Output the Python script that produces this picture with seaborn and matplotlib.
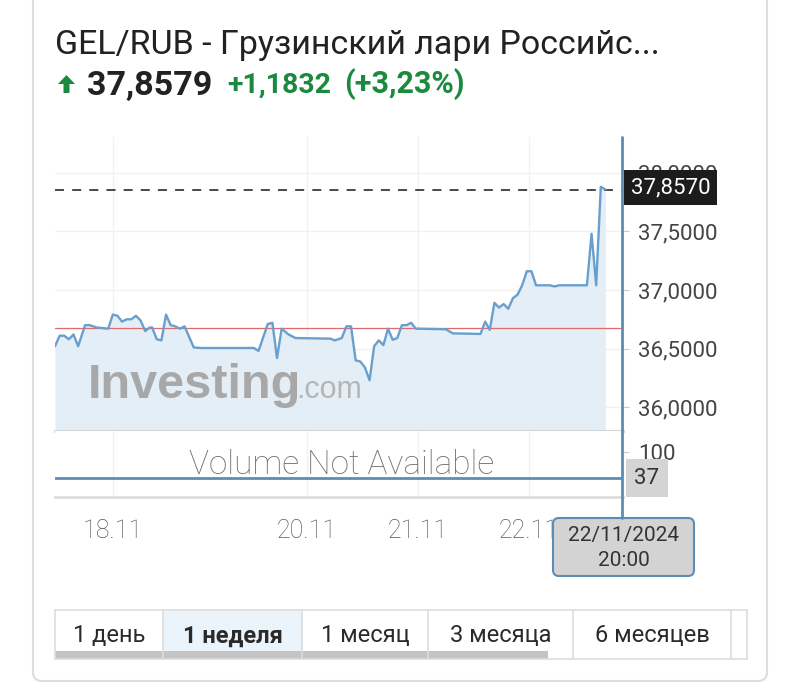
import numpy as np
import pandas as pd
import matplotlib
matplotlib.use("Agg")
import matplotlib.pyplot as plt
import seaborn as sns
from matplotlib.patches import FancyBboxPatch, Rectangle, Polygon

# ---------------- data ----------------
hours = [0, 1, 2, 3, 4, 5, 6.5, 7.5, 9, 11.5, 12.5, 13.5, 14.5, 15.5, 16.5, 17.5,
         18.5, 19.5, 20.5, 21, 22, 23, 24, 25, 26, 27, 28, 30, 31.5, 43, 44, 46,
         47, 48, 49, 50.5, 52, 59.5, 60.5, 62, 63, 64, 65, 66, 67, 68, 69, 70, 71,
         72, 73, 74, 75, 76, 77, 78, 84.5, 86, 92, 93, 94, 95, 96, 97, 98, 99,
         100, 101, 102, 103, 104, 107, 108, 109, 115, 116, 117, 118, 119]
prices = [36.52, 36.61, 36.61, 36.58, 36.62, 36.52, 36.70, 36.70, 36.68, 36.67,
          36.79, 36.78, 36.73, 36.75, 36.75, 36.78, 36.74, 36.65, 36.68, 36.68,
          36.58, 36.57, 36.79, 36.70, 36.69, 36.67, 36.69, 36.51, 36.505, 36.505,
          36.48, 36.71, 36.72, 36.42, 36.67, 36.62, 36.59, 36.585, 36.57, 36.59,
          36.69, 36.69, 36.40, 36.39, 36.34, 36.23, 36.52, 36.57, 36.53, 36.67,
          36.575, 36.59, 36.70, 36.70, 36.72, 36.67, 36.665, 36.63, 36.625, 36.73,
          36.66, 36.89, 36.85, 36.88, 36.84, 36.93, 36.96, 37.04, 37.16, 37.16,
          37.04, 37.04, 37.03, 37.04, 37.04, 37.48, 37.04, 37.88, 37.857]
prev_close = 36.6747
last_price = 37.857
last_label = "37,8570"
y_ticks = [36.0, 36.5, 37.0, 37.5, 38.0]
x_tick_hours = [12.5, 54.5, 78.5, 102.5]
x_tick_labels = ["18.11", "20.11", "21.11", "22.11"]
volume_ticks = [100]
volume_marker = 37
title = "GEL/RUB - Грузинский лари Российс..."
price_text = "37,8579"
change_text = "+1,1832"
change_pct = "(+3,23%)"
tabs = ["1 день", "1 неделя", "1 месяц", "3 месяца", "6 месяцев"]
active_tab = 1
tooltip_date = "22/11/2024"
tooltip_time = "20:00"

# ---------------- style ----------------
sns.set_style("white")
plt.rcParams["font.family"] = ["Roboto", "DejaVu Sans"]

W, H = 800, 691
fig = plt.figure(figsize=(W / 100, H / 100), dpi=100)


def fx(x):
    return x / W


def fy(y):
    return 1 - y / H


L, R, T, B, VB = 55, 623, 137, 431, 497
ax = fig.add_axes([fx(L), fy(B), fx(R) - fx(L), fy(T) - fy(B)])
axv = fig.add_axes([fx(L), fy(VB), fx(R) - fx(L), fy(B) - fy(VB)])

df = pd.DataFrame({"hour": hours, "price": prices})
ymin, ymax = 35.797, 38.305
xmax = 122.8

# ---- price panel ----
ax.set_axisbelow(True)
ax.fill_between(df["hour"], df["price"], ymin, color="#e4eef7", lw=0, zorder=1)
ax.text(fx(88), fy(398), "Investing", transform=fig.transFigure, fontsize=35,
        fontweight="bold", family="Liberation Sans", color="#a8a8a8", zorder=1.5)
ax.text(fx(296), fy(398), ".com", transform=fig.transFigure, fontsize=22,
        family="Liberation Sans", color="#b5b5b5", zorder=1.5)
sns.lineplot(data=df, x="hour", y="price", ax=ax, color="#6a9fcd", lw=1.7, zorder=3)
ax.axhline(prev_close, color="#e06a6a", lw=0.9, zorder=2)
ax.axhline(last_price, color="#3a3a3a", lw=1.3, ls=(0, (5, 4.5)), zorder=2)
ax.set_xlim(0, xmax)
ax.set_ylim(ymin, ymax)
ax.set_yticks(y_ticks)
ax.set_yticklabels([f"{v:.4f}".replace(".", ",") for v in y_ticks])
ax.yaxis.tick_right()
ax.tick_params(axis="y", length=4, color="#cccccc", pad=7, labelsize=16,
               labelcolor="#444444")
ax.set_xticks(x_tick_hours)
ax.tick_params(axis="x", length=0, labelbottom=False)
ax.grid(True, color="#f1f1f1", lw=1)
ax.set_xlabel("")
ax.set_ylabel("")
for s in ["top", "left"]:
    ax.spines[s].set_visible(False)
ax.spines["bottom"].set_color("#cfcfcf")
ax.spines["bottom"].set_linewidth(2)
ax.spines["right"].set_color("#e4e4e4")
ax.annotate(last_label, xy=(1, last_price), xycoords=("axes fraction", "data"),
            xytext=(8, 2), textcoords="offset pixels", ha="left", va="center",
            color="white", fontsize=16,
            bbox=dict(boxstyle="square,pad=0.3", fc="#1c1c1c", ec="none"),
            zorder=20, annotation_clip=False)

# ---- volume panel ----
axv.set_axisbelow(True)
axv.set_xlim(0, xmax)
axv.set_ylim(-9, 151)
axv.axhline(volume_marker, color="#5b8db8", lw=2, zorder=3)
axv.set_yticks(volume_ticks)
axv.set_yticklabels([str(v) for v in volume_ticks])
axv.yaxis.tick_right()
axv.tick_params(axis="y", length=4, color="#cccccc", pad=7, labelsize=16,
                labelcolor="#444444")
axv.set_xticks(x_tick_hours)
axv.set_xticklabels(x_tick_labels)
axv.tick_params(axis="x", length=8, color="#dddddd", pad=8, labelsize=18,
                labelcolor="#5a5a5a")
for lab in axv.get_xticklabels():
    lab.set_fontweight("light")
axv.grid(True, axis="x", color="#f1f1f1", lw=1)
for s in ["top", "left"]:
    axv.spines[s].set_visible(False)
axv.spines["bottom"].set_color("#dddddd")
axv.spines["bottom"].set_linewidth(2)
axv.spines["right"].set_color("#e4e4e4")
axv.text(0.504, 0.48, "Volume Not Available", transform=axv.transAxes, ha="center",
         va="center", fontsize=24, fontweight="light", color="#707070")
axv.annotate(str(volume_marker), xy=(1, volume_marker),
             xycoords=("axes fraction", "data"), xytext=(24, 0),
             textcoords="offset pixels", ha="center", va="center",
             color="#333333", fontsize=16,
             bbox=dict(boxstyle="square,pad=0.4", fc="#d4d4d4", ec="none"),
             zorder=20, annotation_clip=False)

# ---- overlay (card, header, cursor, tooltip, tabs) ----
ov = fig.add_axes([0, 0, 1, 1], zorder=10)
ov.set_xlim(0, W)
ov.set_ylim(H, 0)
ov.axis("off")
ov.patch.set_alpha(0)

ov.add_patch(FancyBboxPatch((33, -20), 734, 701,
                            boxstyle="round,pad=0,rounding_size=9",
                            fc="none", ec="#dcdcdc", lw=1.5))

ov.text(55, 54, title, fontsize=24.5, color="#222222", va="baseline", ha="left")
green = "#1b8a3e"
ov.add_patch(Polygon([(58, 84), (66.5, 75), (75, 84), (69.5, 84), (69.5, 93),
                      (63.5, 93), (63.5, 84)], closed=True, fc=green, ec="none"))
ov.text(87, 95, price_text, fontsize=24.5, fontweight="bold", color="#222222",
        va="baseline")
ov.text(227, 93, change_text, fontsize=20.5, fontweight="bold", color=green,
        va="baseline")
ov.text(344, 93, change_pct, fontsize=22, fontweight="bold", color=green,
        va="baseline")

# cursor line and tooltip
ov.plot([622, 622], [137, 518], color="#5b8db8", lw=2)
ov.add_patch(FancyBboxPatch((553, 518), 141, 58,
                            boxstyle="round,pad=0,rounding_size=6",
                            fc="#d3d3d3", ec="#5b8db8", lw=1.5))
ov.text(623.5, 535, tooltip_date, fontsize=15, color="#333333", ha="center", va="center")
ov.text(623.5, 560, tooltip_time, fontsize=15, color="#333333", ha="center", va="center")

# tabs
edges = [55, 163, 302, 428, 573, 731, 747]
ov.add_patch(Rectangle((edges[1], 610), edges[2] - edges[1], 41, fc="#ebf3fb", ec="none"))
ov.add_patch(Rectangle((55, 651), 493, 8, fc="#c4c4c4", ec="none"))
ov.add_patch(Rectangle((55, 610), 692, 49, fc="none", ec="#dddddd", lw=1.2))
for e in edges[1:-1]:
    ov.plot([e, e], [610, 659], color="#dddddd", lw=1.2)
for i, t in enumerate(tabs):
    cx = (edges[i] + edges[i + 1]) / 2
    ov.text(cx, 636, t, fontsize=17, color="#2a2a2a", ha="center", va="center",
            fontweight="bold" if i == active_tab else "normal")

fig.savefig("out.png", dpi=100)
